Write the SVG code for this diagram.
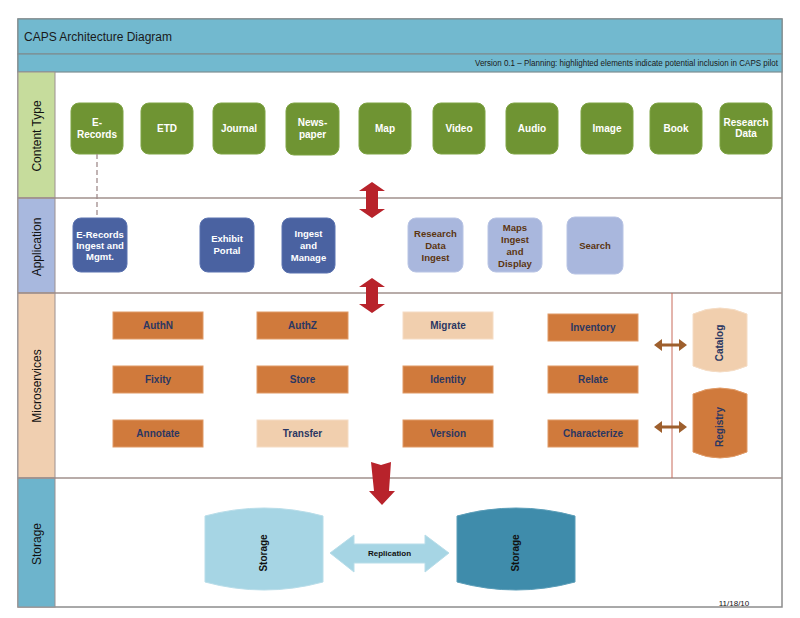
<svg xmlns="http://www.w3.org/2000/svg" width="800" height="618" viewBox="0 0 800 618">
<style>
text{font-family:"Liberation Sans",Arial,sans-serif}
.lbl{font-size:12px;fill:#111;text-anchor:middle}
.ct rect{fill:#6f9433;stroke:#7fa444;stroke-width:1}
.ct text{fill:#fff;font-weight:bold;font-size:10px;text-anchor:middle}
.ad rect{fill:#4a62a1;stroke:#5b73b0;stroke-width:1}
.ad text{fill:#fff;font-weight:bold;font-size:9.5px;text-anchor:middle}
.al rect{fill:#a9b7dd;stroke:#b8c4e4;stroke-width:1}
.al text{fill:#5c3510;font-weight:bold;font-size:9.5px;text-anchor:middle}
.ms rect{fill:#d07a3c;stroke:#e09a66;stroke-width:1}
.ms.lt rect{fill:#f1cfae;stroke:#f5dcc4}
.ms text{fill:#2b3762;font-weight:bold;font-size:10px;text-anchor:middle}
.cyl text{font-weight:bold;font-size:10px;text-anchor:middle}
.sep{stroke:#a0908c;stroke-width:1.5;fill:none}
.red{fill:#b8232b}
.brn{fill:#9e5f2d}
</style>

<!-- frame and bars -->
<rect x="18" y="19" width="764" height="588" fill="#fff" stroke="#8c8c8c" stroke-width="1.5"/>
<rect x="18" y="19" width="764" height="35" fill="#72b9cf" stroke="#7e8e92" stroke-width="1.2"/>
<rect x="18" y="54" width="764" height="18" fill="#72b9cf" stroke="#7e8e92" stroke-width="1.2"/>
<text x="24" y="41" font-size="12.5" fill="#1a1a1a" textLength="148" lengthAdjust="spacingAndGlyphs">CAPS Architecture Diagram</text>
<text x="778" y="66" font-size="8.5" fill="#1a1a1a" text-anchor="end" textLength="303" lengthAdjust="spacingAndGlyphs">Version 0.1 – Planning:  highlighted elements indicate potential inclusion in CAPS pilot</text>

<!-- swimlane labels -->
<rect x="18" y="72" width="37" height="126" fill="#c6dc9c" stroke="#9c9090" stroke-width="1"/>
<rect x="18" y="198" width="37" height="95" fill="#a8b8de" stroke="#9c9090" stroke-width="1"/>
<rect x="18" y="293" width="37" height="185" fill="#f0cfb0" stroke="#9c9090" stroke-width="1"/>
<rect x="18" y="478" width="37" height="129" fill="#6db4cc" stroke="#9c9090" stroke-width="1"/>
<text class="lbl" transform="translate(40.5,136) rotate(-90)">Content Type</text>
<text class="lbl" transform="translate(40.5,247) rotate(-90)">Application</text>
<text class="lbl" transform="translate(40.5,386) rotate(-90)">Microservices</text>
<text class="lbl" transform="translate(40.5,544) rotate(-90)">Storage</text>

<!-- row separators -->
<line class="sep" x1="18" y1="198" x2="782" y2="198"/>
<line class="sep" x1="18" y1="293" x2="782" y2="293"/>
<line class="sep" x1="18" y1="478" x2="782" y2="478"/>
<line x1="672" y1="293" x2="672" y2="478" stroke="#c86a5a" stroke-width="1"/>

<!-- Content types -->
<g id="ct-erecords" class="ct"><rect x="71" y="103" width="52" height="51" rx="8"/><text x="97" y="126">E-</text><text x="97" y="138">Records</text></g>
<g id="ct-etd" class="ct"><rect x="141" y="103" width="52" height="51" rx="8"/><text x="167" y="132">ETD</text></g>
<g id="ct-journal" class="ct"><rect x="213" y="103" width="52" height="51" rx="8"/><text x="239" y="132">Journal</text></g>
<g id="ct-newspaper" class="ct"><rect x="286" y="103" width="53" height="52" rx="8"/><text x="312.5" y="126">News-</text><text x="312.5" y="138">paper</text></g>
<g id="ct-map" class="ct"><rect x="359" y="103" width="52" height="51" rx="8"/><text x="385" y="132">Map</text></g>
<g id="ct-video" class="ct"><rect x="433" y="103" width="52" height="51" rx="8"/><text x="459" y="132">Video</text></g>
<g id="ct-audio" class="ct"><rect x="506" y="103" width="52" height="51" rx="8"/><text x="532" y="132">Audio</text></g>
<g id="ct-image" class="ct"><rect x="581" y="103" width="52" height="51" rx="8"/><text x="607" y="132">Image</text></g>
<g id="ct-book" class="ct"><rect x="650" y="103" width="52" height="51" rx="8"/><text x="676" y="132">Book</text></g>
<g id="ct-research" class="ct"><rect x="720" y="103" width="52" height="51" rx="8"/><text x="746" y="126" font-size="8.5">Research</text><text x="746" y="137" font-size="8.5">Data</text></g>

<!-- Applications -->
<g id="app-erecords" class="ad"><rect x="73" y="218" width="54" height="54" rx="8"/><text x="100" y="237.5">E-Records</text><text x="100" y="248.5">Ingest and</text><text x="100" y="259.5">Mgmt.</text></g>
<g id="app-exhibit" class="ad"><rect x="200" y="218" width="54" height="54" rx="8"/><text x="227" y="242" font-size="10">Exhibit</text><text x="227" y="254" font-size="10">Portal</text></g>
<g id="app-ingest" class="ad"><rect x="282" y="218" width="53" height="55" rx="8"/><text x="308.5" y="236.5" font-size="10">Ingest</text><text x="308.5" y="249" font-size="10">and</text><text x="308.5" y="261" font-size="10">Manage</text></g>
<g id="app-research" class="al"><rect x="408" y="218" width="55" height="54" rx="8"/><text x="435.5" y="236.5">Research</text><text x="435.5" y="248.5">Data</text><text x="435.5" y="260.5">Ingest</text></g>
<g id="app-maps" class="al"><rect x="488" y="218" width="54" height="54" rx="8"/><text x="515" y="230.5">Maps</text><text x="515" y="242.5">Ingest</text><text x="515" y="254.5">and</text><text x="515" y="266.5">Display</text></g>
<g id="app-search" class="al"><rect x="567" y="217" width="56" height="57" rx="8"/><text x="595" y="248.5">Search</text></g>

<!-- Microservices -->
<g id="ms-authn" class="ms"><rect x="113" y="312" width="90" height="27"/><text x="158" y="329">AuthN</text></g>
<g id="ms-authz" class="ms"><rect x="257" y="312" width="91" height="27"/><text x="302.5" y="329">AuthZ</text></g>
<g id="ms-migrate" class="ms lt"><rect x="403" y="312" width="90" height="27"/><text x="448" y="329">Migrate</text></g>
<g id="ms-inventory" class="ms"><rect x="548" y="314" width="90" height="27"/><text x="593" y="331">Inventory</text></g>
<g id="ms-fixity" class="ms"><rect x="113" y="366" width="90" height="27"/><text x="158" y="383">Fixity</text></g>
<g id="ms-store" class="ms"><rect x="257" y="366" width="91" height="27"/><text x="302.5" y="383">Store</text></g>
<g id="ms-identity" class="ms"><rect x="403" y="366" width="90" height="27"/><text x="448" y="383">Identity</text></g>
<g id="ms-relate" class="ms"><rect x="548" y="366" width="90" height="27"/><text x="593" y="383">Relate</text></g>
<g id="ms-annotate" class="ms"><rect x="113" y="420" width="90" height="27"/><text x="158" y="437">Annotate</text></g>
<g id="ms-transfer" class="ms lt"><rect x="257" y="420" width="91" height="27"/><text x="302.5" y="437">Transfer</text></g>
<g id="ms-version" class="ms"><rect x="403" y="420" width="90" height="27"/><text x="448" y="437">Version</text></g>
<g id="ms-characterize" class="ms"><rect x="548" y="420" width="90" height="27"/><text x="593" y="437">Characterize</text></g>

<!-- Catalog / Registry -->
<g id="catalog" class="cyl"><path d="M693,314 Q720,302 747,314 L747,366 Q720,378 693,366 Z" fill="#f1cfae" stroke="#f5dcc4"/><text transform="translate(723,343) rotate(-90)" fill="#2b3762">Catalog</text></g>
<g id="registry" class="cyl"><path d="M693,394 Q720,382 747,394 L747,452 Q720,464 693,452 Z" fill="#d07a3c" stroke="#e09a66"/><text transform="translate(723,427) rotate(-90)" fill="#2b3762">Registry</text></g>

<!-- Storage -->
<g id="storage-1" class="cyl"><path d="M205,516 Q264,500 323,516 L323,582 Q264,598 205,582 Z" fill="#a6d5e4" stroke="#b8dde9"/><text transform="translate(267,553) rotate(-90)" fill="#111">Storage</text></g>
<g id="storage-2" class="cyl"><path d="M457,516 Q516,500 575,516 L575,582 Q516,598 457,582 Z" fill="#3f8cab" stroke="#5a9db8"/><text transform="translate(519,553) rotate(-90)" fill="#111">Storage</text></g>

<!-- connectors -->
<g id="connectors">
<line x1="97" y1="154" x2="97" y2="218" stroke="#a08c8c" stroke-width="1.3" stroke-dasharray="5,3"/>
<polygon class="red" points="372,182 385,191 378,191 378,209 385,209 372,218 359,209 366,209 366,191 359,191"/>
<polygon class="red" points="372,278 385,287 378,287 378,304 385,304 372,313 359,304 366,304 366,287 359,287"/>
<polygon class="red" points="371,462 381,465 391,462 389,491 395,491 382,505 369,491 374,491"/>
<polygon class="brn" points="654,345 662,339 662,343.5 679,343.5 679,339 687,345 679,351 679,346.5 662,346.5 662,351"/>
<polygon class="brn" points="654,427 662,421 662,425.5 679,425.5 679,421 687,427 679,433 679,428.5 662,428.5 662,433"/>
<g id="replication">
<polygon points="330,553 354,535 354,544 425,544 425,535 449,553 425,572 425,563 354,563 354,572" fill="#a6d5e4" stroke="#b8dde9"/>
<text x="389.5" y="556" font-size="8" font-weight="bold" fill="#111" text-anchor="middle">Replication</text>
</g>
</g>

<text x="734" y="606" font-size="8" fill="#111" text-anchor="middle">11/18/10</text>
</svg>
